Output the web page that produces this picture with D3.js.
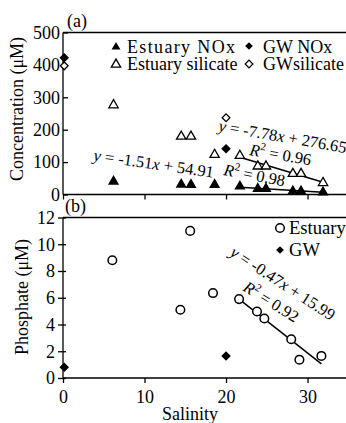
<!DOCTYPE html>
<html>
<head>
<meta charset="utf-8">
<script src="https://cdn.jsdelivr.net/npm/d3@7"></script>
<style>
  body { margin: 0; background: #fff; }
  svg { display: block; overflow: hidden; }
  text { font-family: "Liberation Serif", "Times New Roman", serif; fill: #000; }
</style>
</head>
<body>
<script>
'use strict';

// panel (a): concentration vs salinity
const estSalinity = [6.2, 14.5, 15.7, 18.6, 21.7, 23.9, 24.9, 28.2, 29.2, 31.9];
const estNOx = [40, 31, 30, 30, 25, 18, 18, 10, 10, 7];
const estSilicate = [276, 179, 179, 123, 120, 87, 87, 64, 64, 36];
const gwSalinity = [0.15, 20];
const gwNOx = [422, 141];
const gwSilicate = [397, 237];
const silFit = [[21.7, 115], [31.9, 38]];
const noxFit = [[21.7, 22], [31.9, 7]];

// panel (b): phosphate vs salinity
const phSalinity = [6.05, 14.4, 15.6, 18.4, 21.6, 23.8, 24.7, 28.0, 29.0, 31.7];
const phEstuary = [8.8, 5.1, 11.0, 6.35, 5.9, 4.97, 4.45, 2.9, 1.37, 1.65];
const phGwSalinity = [0.15, 20];
const phGw = [0.8, 1.65];
const phFit = [[21.6, 5.9], [31.7, 1.05]];

const concTicks = [0, 100, 200, 300, 400, 500];
const phTicks = [0, 2, 4, 6, 8, 10, 12];
const salTicks = [0, 10, 20, 30];

window.onload = function() {
  let width = 346;
  let height = 423;
  let svg = d3.select("body").append("svg")
    .attr("width", width)
    .attr("height", height);

  let x = d3.scaleLinear().domain([0, 35]).range([63, 348.3]);
  let yA = d3.scaleLinear().domain([0, 500]).range([194.5, 32.5]);
  let yB = d3.scaleLinear().domain([0, 12]).range([378, 217.5]);

  // ---- panel (a) frame ----
  svg.append("line").attr("x1", x(0)).attr("x2", 360)
    .attr("y1", yA(500)).attr("y2", yA(500)).attr("stroke", "black").attr("stroke-width", 1.3);

  let axA = svg.append("g").attr("transform", "translate(0," + yA(0) + ")")
    .call(d3.axisBottom(x).tickValues(salTicks).tickSize(5).tickFormat(""));
  let ayA = svg.append("g").attr("transform", "translate(" + x(0) + ",0)")
    .call(d3.axisLeft(yA).tickValues(concTicks).tickSize(-5).tickPadding(8));
  ayA.selectAll("text").attr("x", -3).style("font-size", "18px");

  // ---- panel (b) frame ----
  svg.append("line").attr("x1", x(0)).attr("x2", 360)
    .attr("y1", yB(12)).attr("y2", yB(12)).attr("stroke", "black").attr("stroke-width", 1.3);

  let axB = svg.append("g").attr("transform", "translate(0," + yB(0) + ")")
    .call(d3.axisBottom(x).tickValues(salTicks).tickSize(5).tickPadding(7));
  axB.selectAll("text").style("font-size", "18px");
  let ayB = svg.append("g").attr("transform", "translate(" + x(0) + ",0)")
    .call(d3.axisLeft(yB).tickValues(phTicks).tickSize(5).tickPadding(6));
  ayB.selectAll(".tick line").attr("x1", 3).attr("x2", -5);
  ayB.selectAll("text").attr("x", -8).style("font-size", "18px");

  [axA, ayA, axB, ayB].forEach(a => {
    a.select(".domain").attr("stroke-width", 1.3).attr("d", null);
    a.selectAll(".tick line").attr("stroke-width", 1.3);
  });
  // axis lines
  svg.append("line").attr("x1", x(0)).attr("x2", 360).attr("y1", yA(0)).attr("y2", yA(0))
    .attr("stroke", "black").attr("stroke-width", 1.3);
  svg.append("line").attr("x1", x(0)).attr("x2", x(0)).attr("y1", yA(0)).attr("y2", yA(500))
    .attr("stroke", "black").attr("stroke-width", 1.3);
  svg.append("line").attr("x1", x(0)).attr("x2", 360).attr("y1", yB(0)).attr("y2", yB(0))
    .attr("stroke", "black").attr("stroke-width", 1.3);
  svg.append("line").attr("x1", x(0)).attr("x2", x(0)).attr("y1", yB(0)).attr("y2", yB(12))
    .attr("stroke", "black").attr("stroke-width", 1.3);

  // axis titles
  svg.append("text").attr("transform", "translate(23,109) rotate(-90)")
    .attr("text-anchor", "middle").style("font-size", "18px").text("Concentration (\u03bcM)");
  svg.append("text").attr("transform", "translate(28,297) rotate(-90)")
    .attr("text-anchor", "middle").style("font-size", "18px").text("Phosphate (\u03bcM)");
  svg.append("text").attr("x", 190).attr("y", 420)
    .attr("text-anchor", "middle").style("font-size", "18px").text("Salinity");

  svg.append("text").attr("x", 67).attr("y", 27).style("font-size", "18px").text("(a)");
  svg.append("text").attr("x", 65).attr("y", 212).style("font-size", "18px").text("(b)");

  // fit lines
  let lineA = d3.line().x(d => x(d[0])).y(d => yA(d[1]));
  let lineB = d3.line().x(d => x(d[0])).y(d => yB(d[1]));
  [silFit, noxFit].forEach(f => {
    svg.append("path").attr("d", lineA(f)).attr("stroke", "black").attr("stroke-width", 1.5).attr("fill", "none");
  });
  svg.append("path").attr("d", lineB(phFit)).attr("stroke", "black").attr("stroke-width", 1.5).attr("fill", "none");

  // marker shapes
  let triFill = d3.symbol().type(d3.symbolTriangle).size(34);
  let triOpen = d3.symbol().type(d3.symbolTriangle).size(38);
  let diamond = d3.symbol().type(d3.symbolSquare).size(30);

  function marks(sel, xs, ys, yScale, path, fill, rot) {
    sel.selectAll(null)
      .data(xs.map((s, i) => [s, ys[i]]))
      .enter()
      .append("path")
      .attr("d", path)
      .attr("transform", d => "translate(" + x(d[0]) + "," + yScale(d[1]) + ")" + (rot ? " rotate(45)" : ""))
      .attr("fill", fill)
      .attr("stroke", "black")
      .attr("stroke-width", 1.3);
  }

  let gA = svg.append("g");
  marks(gA, estSalinity, estSilicate, yA, triOpen, "white", false);
  marks(gA, estSalinity, estNOx, yA, triFill, "black", false);
  marks(gA, gwSalinity, gwNOx, yA, diamond, "black", true);
  marks(gA, gwSalinity, gwSilicate, yA, diamond, "white", true);

  let gB = svg.append("g");
  gB.selectAll("circle")
    .data(phSalinity.map((s, i) => [s, phEstuary[i]]))
    .enter()
    .append("circle")
    .attr("cx", d => x(d[0]))
    .attr("cy", d => yB(d[1]))
    .attr("r", 4.3)
    .attr("fill", "white")
    .attr("stroke", "black")
    .attr("stroke-width", 1.5);
  marks(gB, phGwSalinity, phGw, yB, diamond, "black", true);

  // legends
  let leg = svg.append("g").style("font-size", "18px");
  leg.append("path").attr("d", triFill).attr("transform", "translate(116,47)").attr("fill", "black");
  leg.append("text").attr("x", 127).attr("y", 52.5).text("Estuary NOx").attr("textLength", 108);
  leg.append("path").attr("d", diamond).attr("transform", "translate(249,46) rotate(45)").attr("fill", "black");
  leg.append("text").attr("x", 263).attr("y", 52.5).text("GW NOx");
  leg.append("path").attr("d", triOpen).attr("transform", "translate(116,64.5)")
    .attr("fill", "white").attr("stroke", "black").attr("stroke-width", 1.3);
  leg.append("text").attr("x", 127).attr("y", 70).text("Estuary silicate");
  leg.append("path").attr("d", diamond).attr("transform", "translate(249,64) rotate(45)")
    .attr("fill", "white").attr("stroke", "black").attr("stroke-width", 1.3);
  leg.append("text").attr("x", 263).attr("y", 70).text("GWsilicate");

  let legB = svg.append("g").style("font-size", "18.6px");
  legB.append("circle").attr("cx", 280).attr("cy", 228).attr("r", 4.3)
    .attr("fill", "white").attr("stroke", "black").attr("stroke-width", 1.5);
  legB.append("text").attr("x", 289).attr("y", 233.5).text("Estuary");
  legB.append("path").attr("d", diamond).attr("transform", "translate(280,250) rotate(45)").attr("fill", "black");
  legB.append("text").attr("x", 289).attr("y", 256).text("GW");

  // equations
  function eq(px, py, ang, parts) {
    let t = svg.append("text")
      .attr("transform", "translate(" + px + "," + py + ") rotate(" + ang + ")")
      .style("font-size", "16.5px");
    parts.forEach(p => {
      let s = t.append("tspan").text(p[0]);
      if (p[1]) s.style("font-style", "italic");
      if (p[2]) s.attr("dy", p[2]).style("font-size", "11px");
      if (p[3]) s.attr("dy", p[3]);
    });
  }
  eq(218, 131, 9.8, [["y", 1], [" = -7.78"], ["x", 1], [" + 276.65"]]);
  eq(249, 155, 9.6, [["R", 1], ["2", 0, -7], [" = 0.96", 0, 0, 7]]);
  eq(93, 160.5, 8.2, [["y", 1], [" = -1.51"], ["x", 1], [" + 54.91"]]);
  eq(223, 175, 10.5, [["R", 1], ["2", 0, -7], [" = 0.98", 0, 0, 7]]);
  eq(229, 255, 33, [["y", 1], [" = -0.47"], ["x", 1], [" + 15.99"]]);
  eq(242, 290, 32, [["R", 1], ["2", 0, -7], [" = 0.92", 0, 0, 7]]);
};
</script>
</body>
</html>
